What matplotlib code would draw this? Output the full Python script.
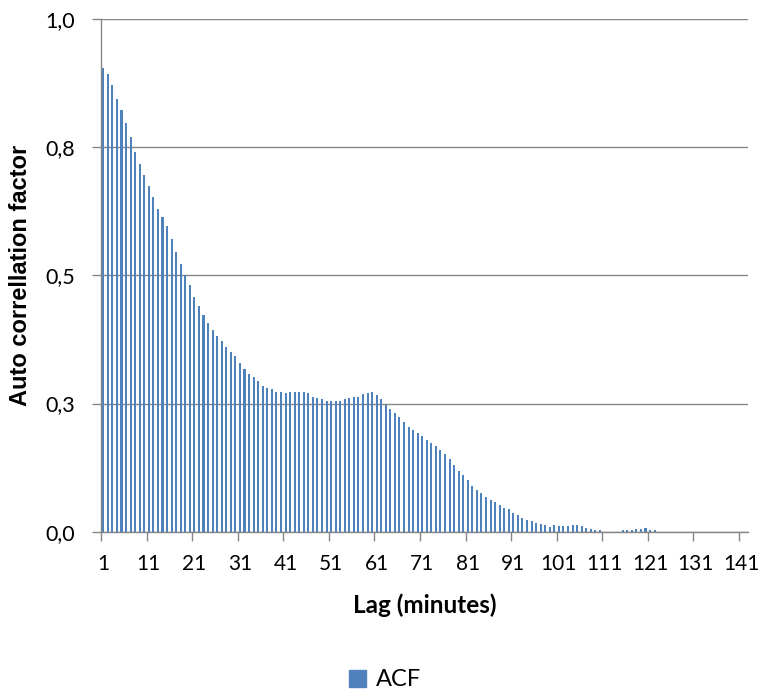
import matplotlib
matplotlib.use("Agg")
import matplotlib.pyplot as plt
from matplotlib.patches import Patch
import numpy as np

# ACF per lag (1..142)
LAGS = list(range(1, 143))
ACF = [
    0.905, 0.893, 0.871, 0.844, 0.822, 0.798, 0.770, 0.741, 0.718, 0.696,
    0.674, 0.653, 0.630, 0.613, 0.596, 0.571, 0.546, 0.523, 0.500, 0.481,
    0.458, 0.440, 0.423, 0.408, 0.393, 0.381, 0.371, 0.360, 0.351, 0.343,
    0.330, 0.318, 0.308, 0.301, 0.293, 0.285, 0.281, 0.278, 0.273, 0.273,
    0.270, 0.273, 0.273, 0.273, 0.273, 0.270, 0.263, 0.260, 0.258, 0.255,
    0.255, 0.255, 0.255, 0.258, 0.260, 0.263, 0.263, 0.268, 0.270, 0.273,
    0.266, 0.258, 0.248, 0.240, 0.231, 0.223, 0.213, 0.205, 0.198, 0.193,
    0.186, 0.178, 0.173, 0.168, 0.160, 0.151, 0.141, 0.130, 0.118, 0.110,
    0.100, 0.090, 0.082, 0.075, 0.068, 0.062, 0.057, 0.053, 0.047, 0.045,
    0.037, 0.032, 0.027, 0.023, 0.020, 0.017, 0.015, 0.013, 0.010, 0.013,
    0.011, 0.011, 0.011, 0.013, 0.013, 0.011, 0.008, 0.006, 0.003, 0.003,
    0.0, 0.0, 0.0, 0.0, 0.003, 0.003, 0.003, 0.005, 0.006, 0.008,
    0.004, 0.003, 0.0, 0.0, 0.0, 0.0, 0.0, 0.0, 0.0, 0.0,
    0.0, 0.0, 0.0, 0.0, 0.0, 0.0, 0.0, 0.0, 0.0, 0.0,
    0.0, 0.0,
]
X_LABELS = [str(v) for v in range(1, 142, 10)]
Y_TICKS = [0.0, 0.25, 0.5, 0.75, 1.0]
Y_LABELS = ["0,0", "0,3", "0,5", "0,8", "1,0"]

BLUE = "#4F81BD"
GRID = "#868686"

fig = plt.figure(figsize=(7.62, 6.91), dpi=100)
ax = fig.add_axes([101 / 762, 1 - 531.7 / 691, 647 / 762, (531.7 - 19) / 691])

ax.bar(LAGS, ACF, width=0.45, color=BLUE, zorder=3)

ax.set_xlim(0.5, len(LAGS) + 0.5)
ax.set_ylim(0, 1.0)

# tick marks between categories, labels on the categories
ax.set_xticks(np.arange(0.5, len(LAGS) + 0.5, 10))
ax.set_xticklabels([])
ax.set_xticks([int(s) for s in X_LABELS], minor=True)
ax.set_xticklabels(X_LABELS, minor=True, fontsize=15, family="Lato")
ax.tick_params(axis="x", which="major", length=6.5, color=GRID, width=1)
ax.tick_params(axis="x", which="minor", length=0, pad=16)

ax.set_yticks(Y_TICKS)
ax.set_yticklabels(Y_LABELS, fontsize=15.5, family="Lato")
ax.tick_params(axis="y", length=6.5, color=GRID, width=1, pad=12)

ax.yaxis.grid(True, color=GRID, linewidth=1.0, zorder=0)
for s in ["top", "right"]:
    ax.spines[s].set_visible(False)
for s in ["left", "bottom"]:
    ax.spines[s].set_color(GRID)
    ax.spines[s].set_linewidth(1.0)
    ax.spines[s].set_zorder(4)

ax.set_xlabel("Lag (minutes)", fontsize=17.5, fontweight="bold", family="Lato", labelpad=14)
ax.set_ylabel("Auto correllation factor", fontsize=17, fontweight="bold",
              family="Liberation Sans", labelpad=10)

fig.legend(handles=[Patch(color=BLUE, label="ACF")], loc="center",
           bbox_to_anchor=(0.505, 0.016), frameon=False,
           prop={"family": "Lato", "size": 17},
           handlelength=0.75, handleheight=0.75, handletextpad=0.4)

fig.savefig("out.png", dpi=100)
